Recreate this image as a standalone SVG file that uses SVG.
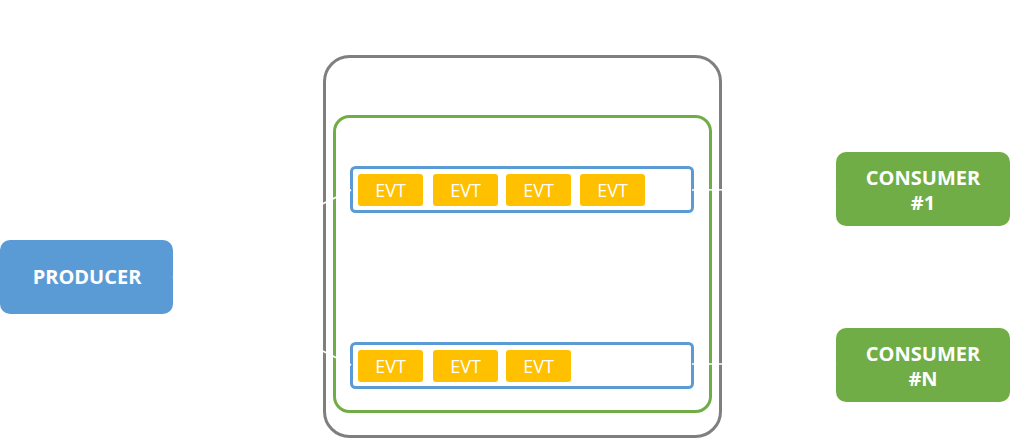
<svg xmlns="http://www.w3.org/2000/svg" width="1010" height="439" viewBox="0 0 1010 439">
<defs>
<marker id="arr" viewBox="0 0 10 10" refX="9" refY="5" markerWidth="4" markerHeight="4" orient="auto"><path d="M0,0 L10,5 L0,10 z" fill="#ffffff"/></marker>
<style>
.evt{fill:#FFC000}
.evtt{fill:#ffffff;font-family:"Open Sans","Noto Sans",sans-serif;font-size:18px;text-anchor:middle}
.lbl{fill:#ffffff;font-family:"Open Sans","Noto Sans",sans-serif;font-size:20px;font-weight:bold;text-anchor:middle}
.part{fill:#ffffff;stroke:#5B9BD5;stroke-width:3}
.conn{stroke:#ffffff;stroke-width:1.5;fill:none;marker-end:url(#arr)}
</style>
</defs>
<rect width="1010" height="439" fill="#ffffff"/>
<g id="broker">
<rect x="324.5" y="56.5" width="396" height="380" rx="25" fill="#ffffff" stroke="#7F7F7F" stroke-width="3"/>
</g>
<g id="topic">
<rect x="334.5" y="116.5" width="376" height="295" rx="15" fill="#ffffff" stroke="#70AD47" stroke-width="3"/>
</g>
<g id="partition1">
<rect class="part" x="351.5" y="167.5" width="341" height="44" rx="4"/>
<rect class="evt" x="358" y="174" width="65" height="32" rx="3"/><text class="evtt" x="390.5" y="197">EVT</text>
<rect class="evt" x="433" y="174" width="65" height="32" rx="3"/><text class="evtt" x="465.5" y="197">EVT</text>
<rect class="evt" x="506" y="174" width="65" height="32" rx="3"/><text class="evtt" x="538.5" y="197">EVT</text>
<rect class="evt" x="580" y="174" width="65" height="32" rx="3"/><text class="evtt" x="612.5" y="197">EVT</text>
</g>
<g id="partition2">
<rect class="part" x="351.5" y="343.5" width="341" height="44" rx="4"/>
<rect class="evt" x="358" y="350" width="65" height="32" rx="3"/><text class="evtt" x="390.5" y="373">EVT</text>
<rect class="evt" x="433" y="350" width="65" height="32" rx="3"/><text class="evtt" x="465.5" y="373">EVT</text>
<rect class="evt" x="506" y="350" width="65" height="32" rx="3"/><text class="evtt" x="538.5" y="373">EVT</text>
</g>
<g id="producer">
<rect x="0" y="240" width="173" height="74" rx="10" fill="#5B9BD5"/>
<text class="lbl" x="87" y="284">PRODUCER</text>
</g>
<g id="consumer1">
<rect x="836" y="152" width="174" height="74" rx="10" fill="#70AD47"/>
<text class="lbl" x="923" y="185">CONSUMER</text>
<text class="lbl" x="923" y="210">#1</text>
</g>
<g id="consumerN">
<rect x="836" y="328" width="174" height="74" rx="10" fill="#70AD47"/>
<text class="lbl" x="923" y="361">CONSUMER</text>
<text class="lbl" x="923" y="386">#N</text>
</g>
<g id="connectors">
<path class="conn" d="M173,277 L351,190"/>
<path class="conn" d="M173,277 L351,365"/>
<path class="conn" d="M692,190 L836,189"/>
<path class="conn" d="M692,364 L836,364"/>
</g>
</svg>
